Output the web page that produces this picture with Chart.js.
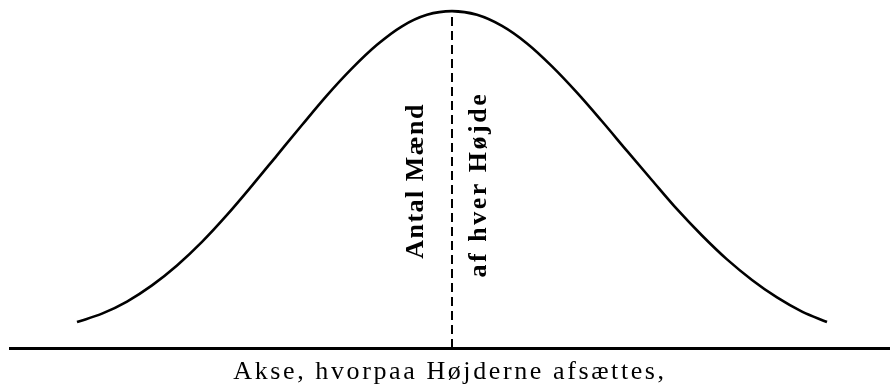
<!DOCTYPE html>
<html>
<head>
<meta charset="utf-8">
<script src="https://cdn.jsdelivr.net/npm/chart.js@4.4.1/dist/chart.umd.min.js"></script>
<style>
  html, body { margin: 0; padding: 0; background: #fff; }
  #wrap { width: 890px; height: 389px; position: relative; }
</style>
</head>
<body>
<div id="wrap"><canvas id="c"></canvas></div>
<script>
// Height classes (steps from the mean height)
const heightSteps = [-15,-14,-13,-12,-11,-10,-9,-8,-7,-6,-5,-4,-3,-2,-1,0,1,2,3,4,5,6,7,8,9,10,11,12,13,14,15];
// Relative number of men at each height (peak = 100)
const menCount = [7.7,10.2,13.8,18.6,24.5,31.5,39.5,48.2,57.2,66.2,75.0,83.0,90.0,95.5,98.9,100,98.9,95.6,90.4,83.6,75.8,67.3,58.5,49.8,41.2,33.4,26.3,20.2,15.0,10.8,7.7];
const meanHeight = 0;
const meanLine = [0, 100];
const axisTitle = 'Akse, hvorpaa Højderne afsættes,';
const ordinateLabels = ['Antal Mænd', 'af hver Højde'];

const curve = heightSteps.map((s, i) => ({ x: s, y: menCount[i] }));
const dashed = meanLine.map(v => ({ x: meanHeight, y: v }));

const textPlugin = {
  id: 'ordinateText',
  beforeDraw(chart) {
    chart.ctx.letterSpacing = '2.6px';
  },
  afterDatasetsDraw(chart) {
    const ctx = chart.ctx;
    const xs = chart.scales.x, ys = chart.scales.y;
    const xm = xs.getPixelForValue(meanHeight);
    const specs = [
      { text: ordinateLabels[0], dx: -36, yv: 49.6, ls: '1.5px' },
      { text: ordinateLabels[1], dx: 27, yv: 48.5, ls: '2.5px' }
    ];
    specs.forEach(s => {
      ctx.save();
      ctx.fillStyle = '#000';
      ctx.font = 'bold 26px "Liberation Serif", "DejaVu Serif", serif';
      ctx.letterSpacing = s.ls;
      ctx.textAlign = 'center';
      ctx.textBaseline = 'middle';
      ctx.translate(xm + s.dx, ys.getPixelForValue(s.yv));
      ctx.rotate(-Math.PI / 2);
      ctx.fillText(s.text, 0, 0);
      ctx.restore();
    });
  },
  afterDraw(chart) {
    chart.ctx.letterSpacing = '0px';
  }
};

new Chart(document.getElementById('c'), {
  type: 'line',
  data: {
    datasets: [
      {
        data: curve,
        borderColor: '#000',
        borderWidth: 2.6,
        pointRadius: 0,
        tension: 0.4,
        cubicInterpolationMode: 'monotone',
        fill: false,
        clip: false
      },
      {
        data: dashed,
        borderColor: '#000',
        borderWidth: 2,
        borderDash: [9, 5],
        pointRadius: 0,
        fill: false,
        clip: false
      }
    ]
  },
  options: {
    responsive: true,
    maintainAspectRatio: false,
    animation: false,
    events: [],
    layout: { padding: { left: 10, right: 0, top: 0, bottom: 0 } },
    plugins: {
      legend: { display: false },
      tooltip: { enabled: false },
      title: { display: false }
    },
    scales: {
      x: {
        type: 'linear',
        min: -17.68,
        max: 17.52,
        grid: { display: false, drawTicks: false, tickLength: 0 },
        ticks: { display: false },
        border: { display: true, color: '#000', width: 3 },
        title: {
          display: true,
          text: axisTitle,
          color: '#000',
          font: { family: '"Liberation Serif", "DejaVu Serif", serif', size: 26, lineHeight: 1.2 },
          padding: { top: 8.8, bottom: 1 }
        }
      },
      y: {
        display: false,
        min: 0,
        max: 103.3
      }
    }
  },
  plugins: [textPlugin]
});
</script>
</body>
</html>
